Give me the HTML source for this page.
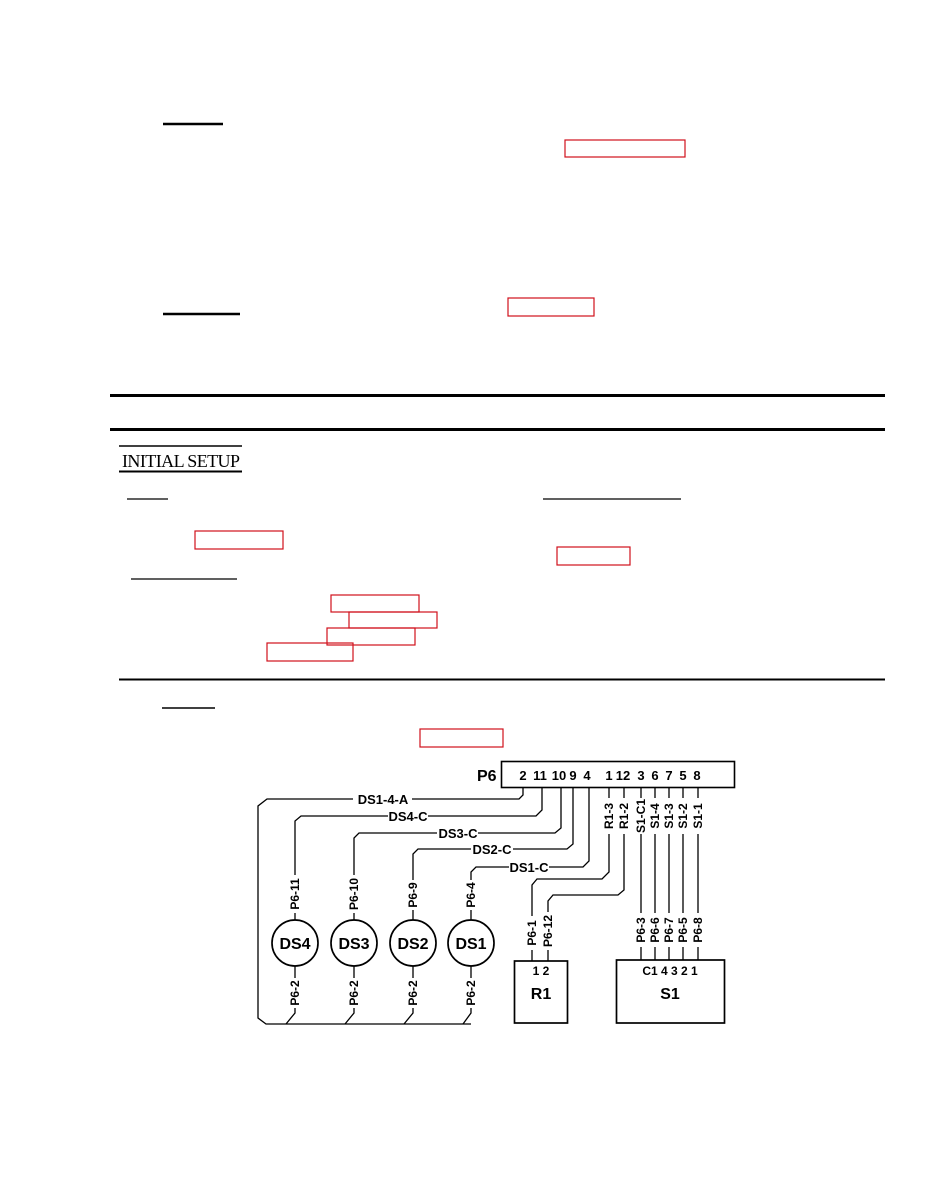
<!DOCTYPE html>
<html><head><meta charset="utf-8"><style>
html,body{margin:0;padding:0;background:#fff;}
svg{display:block;}
</style></head><body>
<svg width="932" height="1200" viewBox="0 0 932 1200" xmlns="http://www.w3.org/2000/svg">
<rect width="932" height="1200" fill="#fff"/>
<g fill="none" stroke="#d0101c" stroke-width="1.2">
<rect x="565" y="140" width="120" height="17"/>
<rect x="508" y="298" width="86" height="18"/>
<rect x="195" y="531" width="88" height="18"/>
<rect x="557" y="547" width="73" height="18"/>
<rect x="331" y="595" width="88" height="17"/>
<rect x="349" y="612" width="88" height="16"/>
<rect x="327" y="628" width="88" height="17"/>
<rect x="267" y="643" width="86" height="18"/>
<rect x="420" y="729" width="83" height="18"/>
</g>
<g stroke="#000">
<line x1="163" y1="124" x2="223" y2="124" stroke-width="2.5"/>
<line x1="163" y1="314" x2="240" y2="314" stroke-width="2.5"/>
<line x1="110" y1="395.5" x2="885" y2="395.5" stroke-width="3"/>
<line x1="110" y1="429.5" x2="885" y2="429.5" stroke-width="3"/>
<line x1="119" y1="446" x2="242" y2="446" stroke-width="1.5"/>
<line x1="119" y1="471.5" x2="242" y2="471.5" stroke-width="2"/>
<line x1="127" y1="499" x2="168" y2="499" stroke-width="1.2"/>
<line x1="543" y1="499" x2="681" y2="499" stroke-width="1.2"/>
<line x1="131" y1="579" x2="237" y2="579" stroke-width="1.2"/>
<line x1="119" y1="679.5" x2="885" y2="679.5" stroke-width="2"/>
<line x1="162" y1="708" x2="215" y2="708" stroke-width="1.5"/>
</g>
<text x="122" y="467" font-family="Liberation Serif, serif" font-size="18" fill="#000" textLength="118">INITIAL SETUP</text>

<g fill="none" stroke="#000" stroke-width="1.3">
<rect x="501.5" y="761.5" width="233" height="26" stroke-width="1.6"/>
<polyline points="523,787 523,795 519,799 412,799"/>
<polyline points="353,799 267,799 258,806 258,1018 266,1024 471,1024"/>
<polyline points="542,787 542,810 536,816 428,816"/>
<polyline points="388,816 301,816 295,821 295,920"/>
<polyline points="561,787 561,828 555,833 478,833"/>
<polyline points="437,833 359,833 354,838 354,920"/>
<polyline points="573,787 573,844 567,849 513,849"/>
<polyline points="471,849 418,849 413,854 413,920"/>
<polyline points="589,787 589,861 583,867 549,867"/>
<polyline points="509,867 476,867 471,872 471,920"/>
<polyline points="609,787 609,872 602,879 537,879 532,885 532,961"/>
<polyline points="624,787 624,890 618,895 553,895 548,901 548,961"/>
<line x1="641" y1="787" x2="641" y2="960"/>
<line x1="655" y1="787" x2="655" y2="960"/>
<line x1="669" y1="787" x2="669" y2="960"/>
<line x1="683" y1="787" x2="683" y2="960"/>
<line x1="698" y1="787" x2="698" y2="960"/>
<circle cx="295" cy="943" r="23" stroke-width="1.7"/>
<circle cx="354" cy="943" r="23" stroke-width="1.7"/>
<circle cx="413" cy="943" r="23" stroke-width="1.7"/>
<circle cx="471" cy="943" r="23" stroke-width="1.7"/>
<polyline points="295,966 295,1013 286,1024"/>
<polyline points="354,966 354,1013 345,1024"/>
<polyline points="413,966 413,1013 404,1024"/>
<polyline points="471,966 471,1013 463,1024"/>
<rect x="514.5" y="961" width="53" height="62" stroke-width="1.7"/>
<rect x="616.5" y="960" width="108" height="63" stroke-width="1.7"/>
</g>
<g font-family="Liberation Sans, sans-serif" font-weight="bold" fill="#000">
<g fill="#fff" stroke="none">
<rect x="288" y="875" width="14" height="38"/><rect x="347" y="875" width="14" height="38"/>
<rect x="406" y="880" width="14" height="30"/><rect x="464" y="880" width="14" height="30"/>
<rect x="288" y="978" width="14" height="30"/><rect x="347" y="978" width="14" height="30"/>
<rect x="406" y="978" width="14" height="30"/><rect x="464" y="978" width="14" height="30"/>
<rect x="602" y="798" width="14" height="36"/><rect x="617" y="798" width="14" height="36"/>
<rect x="634" y="798" width="14" height="36"/><rect x="648" y="798" width="14" height="36"/>
<rect x="662" y="798" width="14" height="36"/><rect x="676" y="798" width="14" height="36"/>
<rect x="691" y="798" width="14" height="36"/>
<rect x="525" y="916" width="14" height="34"/><rect x="541" y="912" width="14" height="38"/>
<rect x="634" y="913" width="14" height="34"/><rect x="648" y="913" width="14" height="34"/>
<rect x="662" y="913" width="14" height="34"/><rect x="676" y="913" width="14" height="34"/>
<rect x="691" y="913" width="14" height="34"/>
</g>
<text x="477" y="781" font-size="16">P6</text>
<g font-size="13" text-anchor="middle">
<text x="523" y="780">2</text><text x="540" y="780">11</text><text x="559" y="780">10</text><text x="573" y="780">9</text><text x="587" y="780">4</text>
<text x="609" y="780">1</text><text x="623" y="780">12</text><text x="641" y="780">3</text><text x="655" y="780">6</text><text x="669" y="780">7</text><text x="683" y="780">5</text><text x="697" y="780">8</text>
<text x="383" y="804">DS1-4-A</text>
<text x="408" y="821">DS4-C</text>
<text x="458" y="838">DS3-C</text>
<text x="492" y="854">DS2-C</text>
<text x="529" y="872">DS1-C</text>
</g>
<g font-size="16" text-anchor="middle">
<text x="295" y="949">DS4</text><text x="354" y="949">DS3</text><text x="413" y="949">DS2</text><text x="471" y="949">DS1</text>
<text x="541" y="999">R1</text><text x="670" y="999">S1</text>
</g>
<g font-size="12" text-anchor="middle">
<text x="541" y="975">1 2</text><text x="670" y="975">C1 4 3 2 1</text>
</g>
<g font-size="12" text-anchor="middle">
<text transform="translate(299,894) rotate(-90)">P6-11</text>
<text transform="translate(358,894) rotate(-90)">P6-10</text>
<text transform="translate(417,895) rotate(-90)">P6-9</text>
<text transform="translate(475,895) rotate(-90)">P6-4</text>
<text transform="translate(299,993) rotate(-90)">P6-2</text>
<text transform="translate(358,993) rotate(-90)">P6-2</text>
<text transform="translate(417,993) rotate(-90)">P6-2</text>
<text transform="translate(475,993) rotate(-90)">P6-2</text>
<text transform="translate(613,816) rotate(-90)">R1-3</text>
<text transform="translate(628,816) rotate(-90)">R1-2</text>
<text transform="translate(645,816) rotate(-90)">S1-C1</text>
<text transform="translate(659,816) rotate(-90)">S1-4</text>
<text transform="translate(673,816) rotate(-90)">S1-3</text>
<text transform="translate(687,816) rotate(-90)">S1-2</text>
<text transform="translate(702,816) rotate(-90)">S1-1</text>
<text transform="translate(536,933) rotate(-90)">P6-1</text>
<text transform="translate(552,931) rotate(-90)">P6-12</text>
<text transform="translate(645,930) rotate(-90)">P6-3</text>
<text transform="translate(659,930) rotate(-90)">P6-6</text>
<text transform="translate(673,930) rotate(-90)">P6-7</text>
<text transform="translate(687,930) rotate(-90)">P6-5</text>
<text transform="translate(702,930) rotate(-90)">P6-8</text>
</g>
</g>
</svg>
</body></html>
